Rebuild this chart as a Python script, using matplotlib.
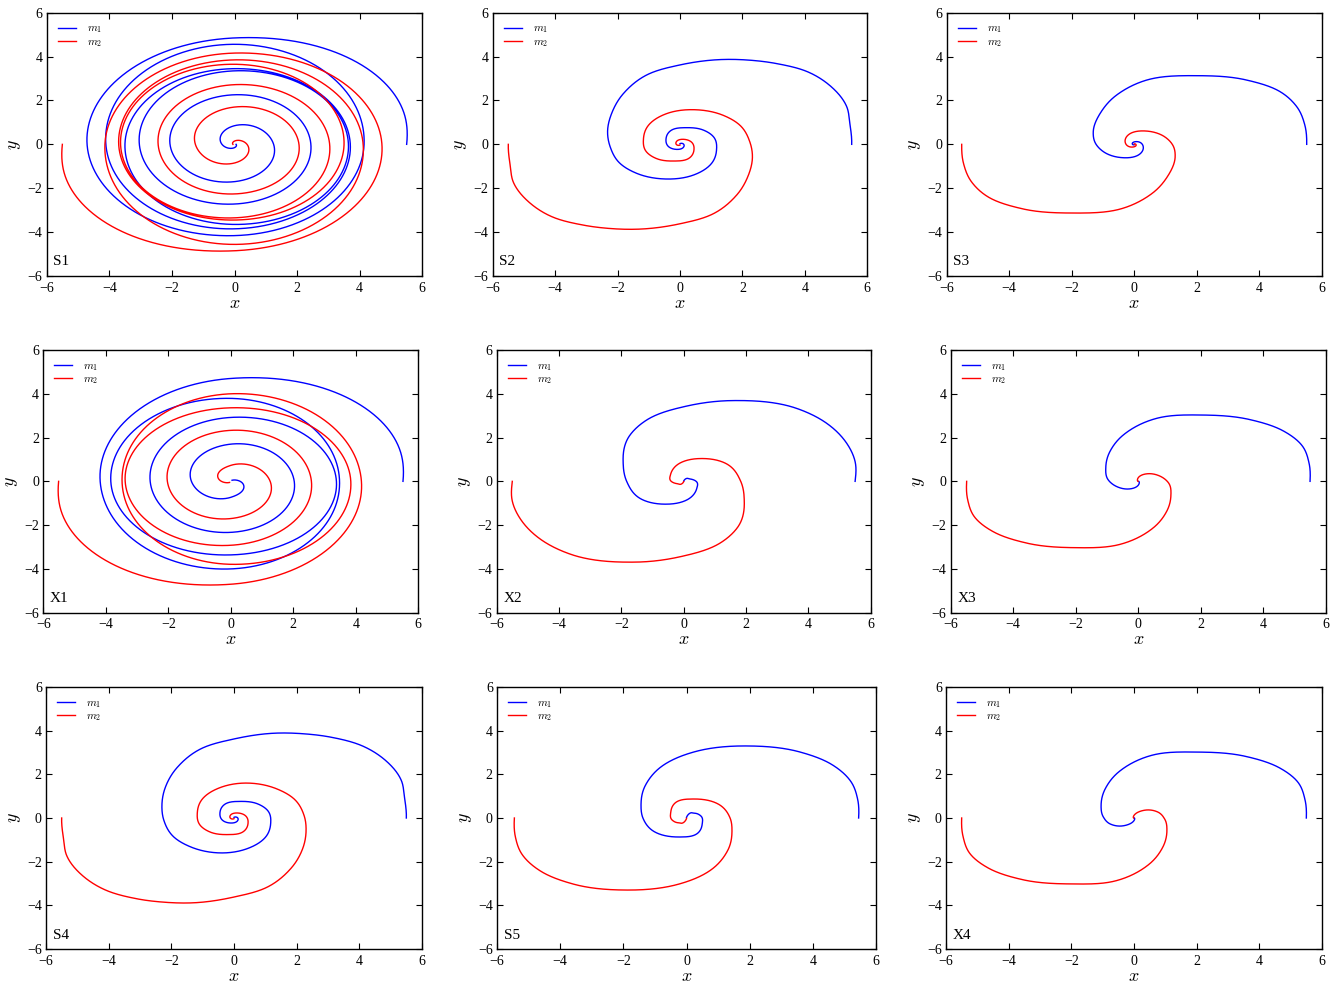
import numpy as np
import matplotlib
matplotlib.use("Agg")
import matplotlib.pyplot as plt

plt.rcParams.update({
    "font.family": ["Liberation Serif", "DejaVu Serif"],
    "mathtext.fontset": "cm",
    "xtick.direction": "in",
    "ytick.direction": "in",
    "xtick.top": True,
    "ytick.right": True,
    "xtick.major.size": 4,
    "ytick.major.size": 4,
    "xtick.major.pad": 4,
    "ytick.major.pad": 3,
    "xtick.labelsize": 10,
    "ytick.labelsize": 10,
    "axes.linewidth": 1.0,
    "axes.unicode_minus": True,
})

# m1 trajectory, points (x, y), in order along the orbit.
# m2 is the mirror image through the origin (equal masses).
s1_x = [5.5, 5.46, 0, -4.71, 0, 4.14, 0, -4.11, 0, 3.70, 0, -3.50, 0, 3.64, 0, -3.04, 0, 2.44, 0, -2.06, 0, 1.25, 0, -0.40, 0, 0.05]
s1_y = [0, 1.2, 4.85, 0, -4.16, 0, 4.56, 0, -3.85, 0, 3.45, 0, -3.65, 0, 3.35, 0, -2.72, 0, 2.26, 0, -1.70, 0, 0.85, 0, -0.15, 0.0]

s2_x = [5.5, 5.44, 5.34, 4.85, 4.10, 3.10, 2.20, 1.44, 0, -1.07, -1.81, -2.19, -2.32, -2.24, -1.92, -1.39, -0.43, 0.43, 1.01, 1.17, 1.07, 0.75, 0.21, -0.27, -0.45, -0.37, -0.11, 0.10, 0.08, 0.0]
s2_y = [0, 0.96, 1.72, 2.62, 3.30, 3.68, 3.84, 3.87, 3.62, 3.16, 2.32, 1.41, 0.58, -0.10, -0.87, -1.32, -1.58, -1.40, -0.87, -0.26, 0.35, 0.65, 0.76, 0.65, 0.20, -0.10, -0.23, -0.15, 0.04, 0.03]

s3_x = [5.52, 5.46, 5.20, 4.67, 3.60, 2.00, 0.40, -0.56, -1.09, -1.31, -1.24, -0.99, -0.35, 0.13, 0.29, 0.20, 0.03, -0.06, 0.0]
s3_y = [0, 0.88, 1.72, 2.40, 2.93, 3.13, 2.93, 2.25, 1.41, 0.58, 0.05, -0.33, -0.61, -0.49, -0.11, 0.08, 0.12, 0.05, -0.02]

x1_x = [5.51, 5.46, 0, -4.18, 0, 3.48, 0, -3.84, 0, 3.38, 0, -2.58, 0, 2.03, 0, -1.26, 0, 0.30, 0.04]
x1_y = [0, 1.2, 4.70, 0, -4.00, 0, 3.79, 0, -3.36, 0, 2.92, 0, -2.33, 0, 1.70, 0, -0.73, 0, 0.05]

x2_x = [5.5, 5.5, 5.23, 4.59, 3.63, 1.59, 0.10, -1.19, -1.72, -1.94, -1.83, -1.40, -0.49, 0.10, 0.42, 0.40, 0.20, 0.04, 0.0]
x2_y = [0, 0.90, 1.74, 2.65, 3.33, 3.69, 3.44, 2.80, 2.12, 0.75, 0.0, -0.78, -1.04, -0.85, -0.32, 0.0, 0.11, 0.09, 0.01]

x3_x = [5.49, 5.46, 5.22, 4.64, 3.57, 2.02, 0.59, -0.48, -0.91, -1.04, -0.96, -0.69, -0.32, -0.05, 0.03, 0.01]
x3_y = [0, 0.82, 1.66, 2.30, 2.82, 3.03, 2.88, 2.12, 1.36, 0.67, 0.06, -0.24, -0.35, -0.24, -0.05, 0.0]

s4_x = [5.5, 5.44, 5.34, 4.85, 4.10, 3.10, 2.20, 1.40, 0, -1.07, -1.81, -2.19, -2.30, -2.24, -1.92, -1.39, -0.40, 0.43, 1.01, 1.17, 1.07, 0.75, 0.21, -0.27, -0.45, -0.37, -0.11, 0.10, 0.08, 0.0]
s4_y = [0, 0.96, 1.72, 2.62, 3.30, 3.70, 3.86, 3.89, 3.62, 3.16, 2.32, 1.41, 0.60, -0.10, -0.87, -1.32, -1.60, -1.40, -0.87, -0.26, 0.35, 0.65, 0.76, 0.65, 0.20, -0.10, -0.23, -0.15, 0.04, 0.03]

s5_x = [5.45, 5.42, 5.20, 4.60, 3.60, 1.86, 0.30, -0.80, -1.30, -1.44, -1.38, -1.10, -0.20, 0.30, 0.50, 0.45, 0.25, 0.05, 0.0]
s5_y = [0, 0.85, 1.68, 2.45, 3.02, 3.30, 3.05, 2.35, 1.50, 0.60, 0.0, -0.55, -0.87, -0.75, -0.25, 0.10, 0.22, 0.15, 0.02]

x4_x = [5.5, 5.46, 5.22, 4.64, 3.57, 2.00, 0.59, -0.48, -0.91, -1.05, -0.98, -0.75, -0.45, -0.15, 0.02, 0.01]
x4_y = [0, 0.82, 1.66, 2.30, 2.82, 3.02, 2.88, 2.12, 1.36, 0.60, 0.05, -0.28, -0.37, -0.28, -0.06, 0.0]

panels = [
    ("S1", s1_x, s1_y, (46.7, 422.3, 12.7, 276.0)),
    ("S2", s2_x, s2_y, (492.7, 867.3, 12.7, 276.0)),
    ("S3", s3_x, s3_y, (946.7, 1321.7, 12.7, 276.0)),
    ("X1", x1_x, x1_y, (43.3, 418.3, 350.0, 612.7)),
    ("X2", x2_x, x2_y, (496.7, 870.7, 350.0, 612.7)),
    ("X3", x3_x, x3_y, (950.7, 1326.0, 350.0, 612.7)),
    ("S4", s4_x, s4_y, (46.0, 422.0, 687.0, 949.0)),
    ("S5", s5_x, s5_y, (497.0, 876.0, 687.0, 949.0)),
    ("X4", x4_x, x4_y, (946.0, 1322.0, 687.0, 949.0)),
]

W, H = 1335, 983


def hermite(tn, v, tq):
    # cubic Hermite through (tn, v) with three-point slopes
    h = np.diff(tn)
    d = np.diff(v) / h
    m = np.empty_like(v)
    m[1:-1] = (h[1:] * d[:-1] + h[:-1] * d[1:]) / (h[:-1] + h[1:])
    m[0], m[-1] = d[0], d[-1]
    i = np.clip(np.searchsorted(tn, tq) - 1, 0, len(h) - 1)
    s = (tq - tn[i]) / h[i]
    return ((2 * s**3 - 3 * s**2 + 1) * v[i] + (s**3 - 2 * s**2 + s) * h[i] * m[i]
            + (-2 * s**3 + 3 * s**2) * v[i + 1] + (s**3 - s**2) * h[i] * m[i + 1])


def orbit(xs, ys, n=5000):
    # smooth path through the read points in (angle, log radius)
    x = np.asarray(xs, float)
    y = np.asarray(ys, float)
    th = np.unwrap(np.arctan2(y, x))
    lr = np.log(np.hypot(x, y))
    t = np.linspace(th[0], th[-1], n)
    r = np.exp(hermite(th, lr, t))
    return r * np.cos(t), r * np.sin(t)


fig = plt.figure(figsize=(W / 100, H / 100), dpi=100)
for name, xs, ys, (l, r, t, b) in panels:
    ax = fig.add_axes([l / W, 1 - b / H, (r - l) / W, (b - t) / H])
    px, py = orbit(xs, ys)
    ax.plot(px, py, color="b", lw=1.0, label="$m_1$")
    ax.plot(-px, -py, color="r", lw=1.0, label="$m_2$")
    ax.set_xlim(-6, 6)
    ax.set_ylim(-6, 6)
    ax.set_xticks(range(-6, 7, 2))
    ax.set_yticks(range(-6, 7, 2))
    ax.set_xlabel("$x$", fontsize=13, labelpad=0)
    ax.set_ylabel("$y$", fontsize=13, labelpad=3)
    ax.text(0.018, 0.04, name, transform=ax.transAxes, fontsize=11)
    ax.legend(loc="upper left", frameon=False, fontsize=8, handlelength=1.6,
              handletextpad=1.0, borderaxespad=0.6, labelspacing=0.15)

fig.savefig("out.png", dpi=100)
